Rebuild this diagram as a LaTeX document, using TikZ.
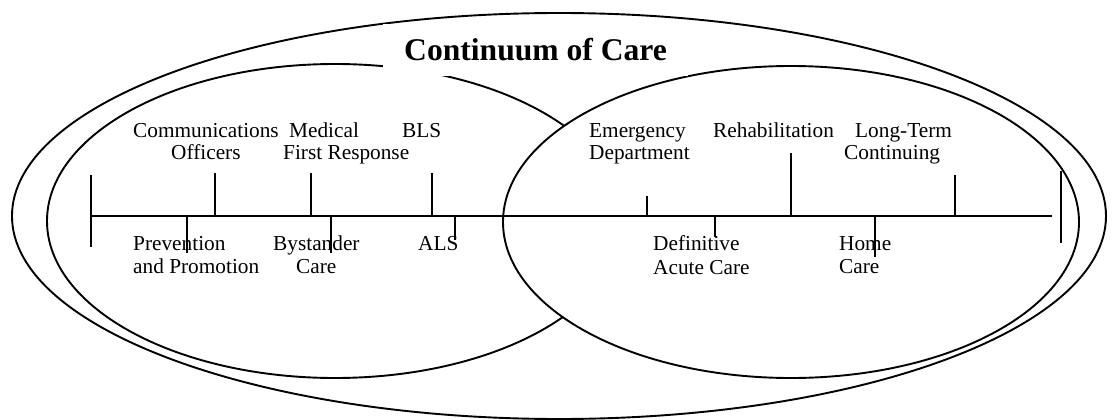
\documentclass[tikz,border=0pt]{standalone}
\usepackage{fontspec}
\setmainfont{Liberation Serif}
\begin{document}
\begin{tikzpicture}[x=1pt,y=-1pt,
  ring/.style={line width=1.9pt},
  rule/.style={line width=1.7pt},
  lbl/.style={anchor=base west, inner sep=0pt, font=\fontsize{21.3}{22}\selectfont},
  heading/.style={anchor=base west, inner sep=0pt, font=\bfseries\fontsize{31.6}{34}\selectfont}]
\useasboundingbox (0,0) rectangle (1112,420);

% enclosing ellipse and the two overlapping phases
\draw[ring] (559,216) ellipse [x radius=547, y radius=203];
\draw[ring] (335,221) ellipse [x radius=288, y radius=157];
\draw[ring, fill=white] (791,222) ellipse [x radius=288, y radius=156];

% title on a white panel
\fill[white] (383,24) rectangle (688,76);
\node[heading] (title) at (404,61) {Continuum of Care};

% time line with end marks
\coordinate (axL) at (91,216);
\coordinate (axR) at (1052,216);
\draw[rule] (axL) -- (axR);
\draw[rule] (91,175) -- (91,247);
\draw[rule] (1061,171) -- (1061,243);

% marks above the line
\foreach \x/\t in {215/173, 311/173, 432/173, 647/196, 791/153, 955/175}
  \draw[rule] (\x,216) -- (\x,\t);
% marks below the line
\foreach \x/\b in {187/253, 331/253, 455/240, 715/237, 875/257}
  \draw[rule] (\x,216) -- (\x,\b);

% labels above
\node[lbl] (comm1) at (133,137) {Communications};
\node[lbl] (comm2) at (171,159) {Officers};
\node[lbl] (med1) at (289,137) {Medical};
\node[lbl] (med2) at (283,159) {First Response};
\node[lbl] (bls) at (402,137) {BLS};
\node[lbl] (ed1) at (589,137) {Emergency};
\node[lbl] (ed2) at (589,159) {Department};
\node[lbl] (rehab) at (713,137) {Rehabilitation};
\node[lbl] (ltc1) at (855,137) {Long-Term};
\node[lbl] (ltc2) at (844,159) {Continuing};

% labels below
\node[lbl] (prev1) at (133,250) {Prevention};
\node[lbl] (prev2) at (133,273) {and Promotion};
\node[lbl] (by1) at (273,250) {Bystander};
\node[lbl] (by2) at (296,273) {Care};
\node[lbl] (als) at (418,250) {ALS};
\node[lbl] (dac1) at (653,250) {Definitive};
\node[lbl] (dac2) at (653,274) {Acute Care};
\node[lbl] (home1) at (839,250) {Home};
\node[lbl] (home2) at (839,273) {Care};
\end{tikzpicture}
\end{document}
